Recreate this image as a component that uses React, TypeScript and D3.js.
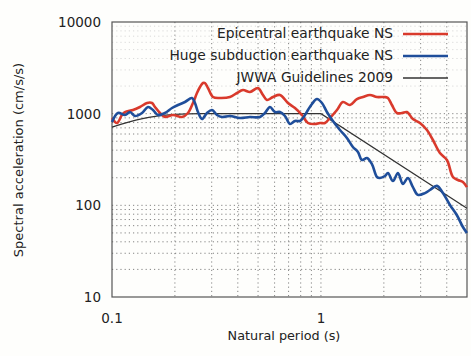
import * as d3 from "d3";

const W = 471;
const H = 356;

// Epicentral earthquake NS (red)
const epiPeriod = [0.1, 0.1056, 0.1116, 0.1154, 0.126, 0.1361, 0.1471, 0.1554, 0.1606, 0.1697, 0.1793, 0.1958, 0.2163, 0.231, 0.2441, 0.2551, 0.2637, 0.2725, 0.2786, 0.2879, 0.3043, 0.3286, 0.3669, 0.3964, 0.4235, 0.4575, 0.4995, 0.5278, 0.5515, 0.5894, 0.6367, 0.6952, 0.7509, 0.8113, 0.8667, 0.9361, 0.989, 1.045, 1.104, 1.193, 1.274, 1.376, 1.487, 1.589, 1.716, 1.853, 2.024, 2.092, 2.186, 2.31, 2.441, 2.579, 2.755, 2.977, 3.216, 3.435, 3.71, 4.008, 4.282, 4.524, 4.78, 4.995];
const epiAccel = [897, 791, 967, 1042, 1096, 1182, 1307, 1307, 1182, 1017, 919, 967, 919, 1017, 1307, 1680, 1954, 2160, 2160, 1905, 1519, 1482, 1519, 1680, 1812, 1724, 1905, 1598, 1409, 1519, 1598, 1307, 1153, 967, 791, 771, 791, 791, 897, 1096, 1341, 1243, 1445, 1519, 1598, 1519, 1519, 1482, 1243, 1017, 1017, 1042, 874, 791, 663, 516, 372, 312, 204, 189, 180, 158];

// Huge subduction earthquake NS (blue)
const subPeriod = [0.1, 0.1068, 0.1154, 0.1219, 0.1288, 0.1392, 0.1487, 0.1571, 0.166, 0.1793, 0.1937, 0.2069, 0.2235, 0.2414, 0.2495, 0.2579, 0.2696, 0.2848, 0.3009, 0.318, 0.336, 0.3669, 0.4097, 0.4575, 0.5106, 0.5395, 0.5702, 0.6025, 0.6367, 0.6728, 0.7108, 0.7509, 0.7935, 0.8203, 0.8667, 0.9057, 0.957, 1.011, 1.068, 1.141, 1.233, 1.331, 1.422, 1.503, 1.571, 1.66, 1.754, 1.853, 1.915, 2.024, 2.092, 2.211, 2.336, 2.468, 2.608, 2.755, 2.911, 3.145, 3.323, 3.589, 3.835, 4.143, 4.475, 4.78, 4.995];
const subAccel = [811, 1017, 967, 1042, 943, 1017, 1182, 1096, 967, 1017, 1153, 1243, 1341, 1482, 1307, 1042, 874, 1017, 1096, 967, 919, 943, 897, 919, 919, 1017, 1182, 1042, 1042, 943, 771, 832, 832, 897, 1096, 1275, 1445, 1307, 1042, 832, 663, 543, 433, 382, 312, 328, 282, 204, 199, 209, 225, 184, 225, 171, 199, 158, 130, 136, 147, 163, 136, 101, 78, 58, 50];

// JWWA Guidelines 2009 (black)
const guidePeriod = [0.1, 0.11, 0.12, 0.13, 0.14, 0.15, 0.17, 0.2, 0.23, 0.27, 1.0, 4.995];
const guideAccel = [712, 765, 810, 850, 882, 910, 950, 980, 995, 1000, 1000, 93];

const xTickValues = [0.1, 1];
const xTickLabels = ["0.1", "1"];
const yTickValues = [10, 100, 1000, 10000];
const yTickLabels = ["10", "100", "1000", "10000"];

const seriesNames = ["Epicentral earthquake NS", "Huge subduction earthquake NS", "JWWA Guidelines 2009"];
const seriesColors = ["#d93a2c", "#1f4e9a", "#333333"];

const font = "'DejaVu Sans', sans-serif";

export default function App() {
  const x = d3.scaleLog().domain([0.1, 5]).range([112, 467]);
  const y = d3.scaleLog().domain([10, 10000]).range([297, 22]);

  const line = d3
    .line<[number, number]>()
    .x(d => x(d[0]))
    .y(d => y(d[1]))
    .curve(d3.curveCatmullRom.alpha(0.5));
  const straight = d3
    .line<[number, number]>()
    .x(d => x(d[0]))
    .y(d => y(d[1]));

  const epi = epiPeriod.map((p, i) => [p, epiAccel[i]] as [number, number]);
  const sub = subPeriod.map((p, i) => [p, subAccel[i]] as [number, number]);
  const guide = guidePeriod.map((p, i) => [p, guideAccel[i]] as [number, number]);

  // minor grid values
  const xGrid = [0.2, 0.3, 0.4, 0.5, 0.6, 0.7, 0.8, 0.9, 1, 2, 3, 4];
  const yGrid: number[] = [];
  [10, 100, 1000].forEach(dec => {
    for (let k = 1; k <= 9; k++) if (dec * k > 10) yGrid.push(dec * k);
  });

  return (
    <svg width={W} height={H} style={{ position: "absolute", left: 0, top: 0, background: "#fff" }}>
      <rect width={W} height={H} fill="#fefefc" />
      {/* grid */}
      {xGrid.map(v => (
        <line key={"gx" + v} x1={x(v)} x2={x(v)} y1={22} y2={297}
          stroke="#666" strokeWidth={0.8} strokeDasharray="1.2,3" />
      ))}
      {yGrid.map(v => (
        <line key={"gy" + v} x1={112} x2={467} y1={y(v)} y2={y(v)}
          stroke={v > 1000 ? "#d0d0d0" : "#666"} strokeWidth={0.8} strokeDasharray="1.2,3" />
      ))}
      {/* frame */}
      <rect x={112} y={22} width={355} height={275} fill="none" stroke="#555" strokeWidth={1.2} />

      {/* series */}
      <path d={straight(guide) || ""} fill="none" stroke={seriesColors[2]} strokeWidth={1.2} />
      <path d={line(epi) || ""} fill="none" stroke={seriesColors[0]} strokeWidth={2.6} strokeLinejoin="round" />
      <path d={line(sub) || ""} fill="none" stroke={seriesColors[1]} strokeWidth={2.6} strokeLinejoin="round" />

      {/* legend */}
      {seriesNames.map((name, i) => (
        <g key={name}>
          <text x={393} y={38 + i * 22} textAnchor="end" fontFamily={font} fontSize={13.8} fill="#222">{name}</text>
          <line x1={403} x2={448} y1={34 + i * 22} y2={34 + i * 22}
            stroke={seriesColors[i]} strokeWidth={i === 2 ? 1.5 : 2.6} />
        </g>
      ))}

      {/* axes labels */}
      {yTickValues.map((v, i) => (
        <text key={"yt" + v} x={101} y={y(v) + 5} textAnchor="end" fontFamily={font} fontSize={13.5} fill="#222">{yTickLabels[i]}</text>
      ))}
      {xTickValues.map((v, i) => (
        <text key={"xt" + v} x={x(v)} y={323} textAnchor="middle" fontFamily={font} fontSize={13.5} fill="#222">{xTickLabels[i]}</text>
      ))}
      <text x={284} y={340} textAnchor="middle" fontFamily={font} fontSize={12.8} fill="#222">Natural period (s)</text>
      <text transform="translate(23,160) rotate(-90)" textAnchor="middle" fontFamily={font} fontSize={13} fill="#222">Spectral acceleration (cm/s/s)</text>
    </svg>
  );
}
